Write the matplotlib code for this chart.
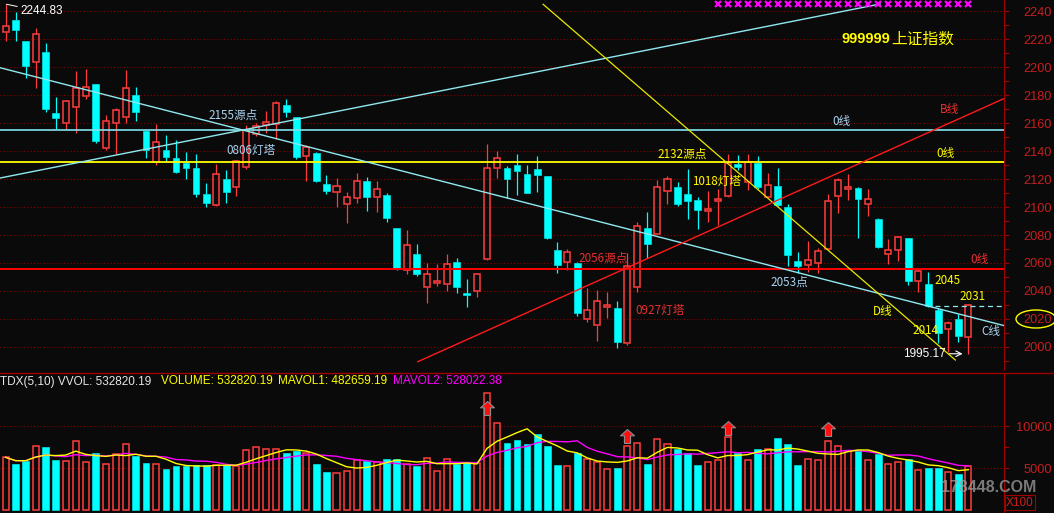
import numpy as np
import pandas as pd
import matplotlib
matplotlib.use("Agg")
import matplotlib.pyplot as plt
from matplotlib.patches import Rectangle, Ellipse
from matplotlib.lines import Line2D
from matplotlib.path import Path
from matplotlib.ticker import MultipleLocator, FixedLocator

W, H = 1054, 513

# daily OHLC
opens = [2225.2, 2233.6, 2218.6, 2203.4, 2210.7, 2166.9, 2159.8, 2171.6, 2179.5, 2187.9,
         2141.9, 2159.8, 2164.1, 2180.0, 2154.5, 2131.9, 2140.7, 2135.0, 2131.6, 2127.9,
         2109.3, 2101.2, 2120.0, 2114.1, 2128.8, 2151.9, 2158.8, 2159.1, 2172.9, 2164.1,
         2136.6, 2138.8, 2116.4, 2110.9, 2101.9, 2106.2, 2118.6, 2106.9, 2108.4, 2085.0,
         2055.0, 2066.4, 2043.1, 2045.9, 2044.8, 2060.5, 2038.6, 2040.2, 2062.6, 2127.6,
         2127.9, 2130.2, 2123.6, 2127.1, 2121.9, 2069.3, 2060.5, 2060.2, 2020.2, 2015.5,
         2028.4, 2027.9, 2002.6, 2042.6, 2084.8, 2080.9, 2111.2, 2114.1, 2109.1, 2105.0,
         2096.9, 2104.1, 2108.1, 2130.5, 2118.1, 2131.6, 2106.9, 2115.0, 2099.8, 2061.4,
         2058.8, 2060.2, 2069.8, 2107.6, 2113.1, 2113.4, 2102.1, 2091.4, 2066.2, 2069.3,
         2077.6, 2047.4, 2044.8, 2026.4, 2012.9, 2020.0, 2007.4]
highs = [2244.83, 2239.0, 2218.6, 2227.6, 2216.9, 2178.8, 2176.4, 2197.1, 2198.6, 2187.9,
         2165.7, 2170.7, 2197.9, 2185.5, 2154.8, 2159.5, 2151.4, 2147.9, 2139.3, 2137.9,
         2117.1, 2130.7, 2126.2, 2133.6, 2158.6, 2160.2, 2168.6, 2175.7, 2176.9, 2164.3,
         2144.3, 2139.5, 2122.9, 2120.5, 2110.5, 2124.1, 2121.2, 2118.6, 2109.8, 2085.2,
         2083.6, 2073.6, 2059.8, 2059.3, 2066.4, 2063.4, 2048.6, 2053.1, 2145.0, 2140.2,
         2129.0, 2137.9, 2130.0, 2136.4, 2122.5, 2075.2, 2070.0, 2060.4, 2041.9, 2040.7,
         2039.1, 2032.9, 2067.1, 2089.5, 2096.4, 2119.3, 2122.1, 2117.6, 2126.9, 2106.9,
         2111.6, 2112.6, 2137.9, 2137.1, 2137.9, 2136.4, 2124.5, 2128.1, 2102.1, 2067.6,
         2075.7, 2071.0, 2109.1, 2120.9, 2123.4, 2114.5, 2112.6, 2092.4, 2077.1, 2079.3,
         2078.0, 2055.5, 2053.4, 2028.1, 2018.8, 2023.4, 2031.0]
lows = [2218.8, 2218.8, 2192.4, 2185.2, 2168.1, 2155.9, 2155.9, 2152.6, 2177.4, 2145.9,
        2140.7, 2137.9, 2159.8, 2161.6, 2135.2, 2130.2, 2132.4, 2124.1, 2120.0, 2107.4,
        2099.8, 2101.0, 2103.1, 2107.9, 2126.9, 2150.7, 2152.6, 2148.4, 2164.5, 2134.1,
        2118.8, 2118.0, 2109.3, 2100.2, 2088.8, 2102.6, 2097.4, 2096.6, 2089.1, 2054.8,
        2051.9, 2050.9, 2031.6, 2043.8, 2040.0, 2038.8, 2028.4, 2035.9, 2062.0, 2120.5,
        2106.2, 2108.6, 2109.8, 2111.0, 2076.9, 2053.1, 2055.0, 2022.4, 2017.6, 2004.5,
        2020.9, 1999.0, 2001.4, 2039.5, 2063.4, 2080.5, 2102.1, 2100.7, 2091.4, 2084.3,
        2089.5, 2087.1, 2106.9, 2126.4, 2112.1, 2113.0, 2106.2, 2100.7, 2057.9, 2053.1,
        2053.8, 2053.1, 2069.5, 2095.9, 2105.0, 2078.1, 2093.6, 2070.5, 2059.1, 2061.4,
        2044.1, 2039.5, 2028.8, 2002.6, 1996.6, 2003.8, 1995.17]
closes = [2229.3, 2226.4, 2200.9, 2223.6, 2170.2, 2163.8, 2175.5, 2185.2, 2185.5, 2147.1,
          2161.2, 2169.1, 2184.8, 2168.1, 2140.7, 2146.2, 2135.9, 2125.2, 2128.1, 2109.5,
          2103.1, 2123.4, 2110.9, 2132.6, 2155.0, 2157.9, 2160.5, 2174.1, 2168.1, 2135.9,
          2142.6, 2118.8, 2111.6, 2114.8, 2106.9, 2118.6, 2107.4, 2112.6, 2091.9, 2055.5,
          2072.9, 2052.4, 2052.1, 2046.9, 2059.1, 2043.1, 2037.4, 2052.1, 2127.6, 2134.8,
          2120.2, 2125.9, 2110.2, 2123.1, 2078.1, 2058.6, 2067.6, 2024.3, 2026.2, 2032.6,
          2029.8, 2003.6, 2057.9, 2086.4, 2073.8, 2114.5, 2119.8, 2102.4, 2104.5, 2098.1,
          2098.8, 2105.7, 2131.2, 2128.4, 2132.4, 2114.1, 2115.7, 2101.4, 2065.7, 2057.9,
          2062.1, 2068.6, 2104.3, 2119.0, 2114.3, 2105.5, 2105.5, 2071.2, 2069.3, 2078.8,
          2047.4, 2054.5, 2029.5, 2009.8, 2017.4, 2008.1, 2030.0]
# volume in units of x100
volumes = [6310, 5512, 5869, 7655, 7536, 5988, 5833, 8214, 5714, 6821,
           5512, 6667, 7857, 6500, 5631, 5512, 4917, 5310, 5274, 5393,
           5393, 5393, 5393, 5274, 7143, 7500, 7262, 7262, 6821, 7060,
           6821, 5512, 4560, 4405, 4643, 6024, 5905, 5786, 6071, 6071,
           5512, 5310, 6190, 4679, 6071, 5512, 5714, 5595, 13929, 10357,
           8012, 8333, 7893, 9083, 7655, 5393, 5274, 6786, 6071, 5786,
           4881, 5000, 7655, 7976, 5512, 8452, 7857, 7298, 6786, 5393,
           5786, 5952, 8690, 6786, 5952, 7298, 7262, 8607, 7893, 5393,
           6071, 5952, 8214, 7619, 7060, 7060, 5952, 6702, 5476, 5714,
           6071, 4762, 5000, 5000, 4524, 4321, 5328]

price_ticks = list(range(2000, 2241, 20))
vol_ticks = [5000, 10000]

level_cyan = 2155
level_yellow = 2132
level_red = 2056
trend_up = [(-0.55, 2120.7), (87.2, 2245.0)]
trend_c = [(-0.55, 2199.5), (99.6, 2015.2)]
trend_d = [(53.6, 2244.8), (94.7, 1990.7)]
trend_b = [(41.1, 1989.5), (99.6, 2177.6)]
dash_level = 2029.5
dash_from = 92.7
signal_idx = list(range(71, 97))
signal_price = 2244.8
arrow_idx = [48, 62, 72, 82]
arrow_vol = [12180, 8850, 9800, 9680]

BG = "#0a0a0a"
RED = "#ff3c3c"
CYAN = "#00ffff"
GRID = "#8a0000"
AXC = "#a00000"
LBL = "#c81e1e"
PALE = "#aad4f0"
YEL = "#ffff00"
CJK = ["Noto Sans CJK SC", "DejaVu Sans"]

plt.rcParams["font.family"] = ["Liberation Sans", "DejaVu Sans"]


def fx(x):
    return x / W


def fy(y):
    return 1 - y / H


fig = plt.figure(figsize=(W / 100, H / 100), dpi=100, facecolor=BG)
ax = fig.add_axes([0, fy(370), 1004 / W, 370 / H], facecolor=BG)
axv = fig.add_axes([0, 0, 1004 / W, 140 / H], facecolor=BG)

n = len(opens)
xs = np.arange(n)
for a in (ax, axv):
    a.set_xlim(-0.55, 99.55)
    a.set_xticks([])
    for s in ("top", "left", "bottom"):
        a.spines[s].set_visible(False)
    a.spines["right"].set_color(AXC)
    a.yaxis.tick_right()
    a.tick_params(axis="y", which="both", direction="out", length=3.5,
                  width=0.8, color=AXC, labelcolor=LBL, labelsize=9.2, pad=31)

ax.set_ylim(1983.57, 2247.86)
ax.set_yticks(price_ticks)
ax.yaxis.set_minor_locator(MultipleLocator(10))
ax.grid(True, axis="y", color=GRID, linestyle=(0, (1, 2)), lw=0.8)
plt.setp(ax.get_yticklabels(), ha="right")

axv.set_ylim(-321, 16345)
axv.set_yticks(vol_ticks)
axv.yaxis.set_minor_locator(FixedLocator([2500, 7500]))
axv.grid(True, axis="y", color=GRID, linestyle=(0, (1, 2)), lw=0.8)
plt.setp(axv.get_yticklabels(), ha="right")

# candles
for i in range(n):
    o, h, l, c = opens[i], highs[i], lows[i], closes[i]
    up = c >= o
    col = RED if up else CYAN
    top, bot = max(o, c), min(o, c)
    hgt = max(top - bot, 0.7)
    ax.vlines(i, top, h, color=col, lw=0.9, zorder=3)
    ax.vlines(i, l, bot, color=col, lw=0.9, zorder=3)
    if up:
        ax.add_patch(Rectangle((i - 0.3, bot), 0.6, hgt, fc="none", ec=col, lw=1.1, zorder=3))
    else:
        ax.add_patch(Rectangle((i - 0.34, bot), 0.68, hgt, fc=col, ec=col, lw=0.4, zorder=3))

# drawn lines
ax.axhline(level_cyan, color="#80e4ee", lw=1.2, zorder=4)
ax.axhline(level_yellow, color=YEL, lw=1.3, zorder=4)
ax.axhline(level_red, color="#ff0000", lw=1.4, zorder=4)
for seg, col, lw in [(trend_up, "#90e8f0", 1.0), (trend_c, "#90e8f0", 1.0),
                     (trend_d, "#e8e800", 0.9), (trend_b, "#ff1a1a", 1.0)]:
    ax.plot([p[0] for p in seg], [p[1] for p in seg], color=col, lw=lw, zorder=4)
ax.plot([dash_from, 99.55], [dash_level, dash_level], color="#90e8f0", lw=0.9,
        ls=(0, (4, 3)), zorder=4)
ax.plot(signal_idx, [signal_price] * len(signal_idx), ls="none", marker="x", ms=4,
        mew=1.6, color="#ff00ff", zorder=5)

ax.annotate("2244.83", xy=(0.1, highs[0]), xytext=(fx(20), fy(11.5)),
            textcoords="figure fraction", va="center", ha="left", color="white",
            fontsize=8.5, arrowprops=dict(arrowstyle="-", color="white", lw=0.7,
                                          shrinkA=0, shrinkB=0))
ax.annotate("", xy=(95.7, lows[-1]), xytext=(93.8, lows[-1]),
            arrowprops=dict(arrowstyle="->", color="white", lw=0.8))
fig.text(fx(946), fy(354), "1995.17", color="white", fontsize=8.5, ha="right", va="center")

labels = [
    (208, 115, "2155源点", PALE), (226, 150, "0806灯塔", PALE),
    (657, 154, "2132源点", YEL), (692, 181, "1018灯塔", YEL),
    (578, 258, "2056源点", "#e83030"), (635, 310, "0927灯塔", "#e83030"),
    (770, 282, "2053点", PALE), (934, 280, "2045", YEL), (959, 296, "2031", YEL),
    (912, 330, "2014", YEL), (873, 312, "D线", YEL), (981, 332, "C线", PALE),
    (940, 110, "B线", "#e83030"), (832, 121, "0线", PALE), (936, 154, "0线", YEL),
    (970, 259, "0线", "#e83030"),
]
for x, y, s, col in labels:
    fig.text(fx(x), fy(y), s, color=col, fontsize=8.4, family=CJK, ha="left", va="center")

fig.text(fx(841), fy(39), "999999", color=YEL, fontsize=10.5, weight="bold",
         ha="left", va="center")
fig.text(fx(891), fy(39), "上证指数", color=YEL, fontsize=11.3, family=CJK,
         ha="left", va="center")

# volume bars
for i in range(n):
    if closes[i] >= opens[i]:
        axv.add_patch(Rectangle((i - 0.3, 0), 0.6, volumes[i], fc="none", ec=RED, lw=1.1, zorder=3))
    else:
        axv.add_patch(Rectangle((i - 0.34, 0), 0.68, volumes[i], fc=CYAN, ec=CYAN, lw=0.4, zorder=3))

vs = pd.Series(volumes, dtype=float)
ma5 = vs.rolling(5, min_periods=1).mean()
ma10 = vs.rolling(10, min_periods=1).mean()
axv.plot(xs, ma10, color="#ff00ff", lw=1.0, zorder=4)
axv.plot(xs, ma5, color=YEL, lw=1.0, zorder=4)

arrow_path = Path([(-0.22, -0.5), (0.22, -0.5), (0.22, 0.05), (0.5, 0.05), (0, 0.5),
                   (-0.5, 0.05), (-0.22, 0.05), (-0.22, -0.5)],
                  [Path.MOVETO] + [Path.LINETO] * 6 + [Path.CLOSEPOLY])
axv.plot(arrow_idx, arrow_vol, ls="none", marker=arrow_path, ms=10, color="#ff1010",
         mec="#8c8c8c", mew=0.8, zorder=5)

fig.text(fx(0), fy(381.5), "TDX(5,10) VVOL: 532820.19", color="#e6e6e6", fontsize=8.5,
         ha="left", va="center")
fig.text(fx(161), fy(381.5), "VOLUME: 532820.19", color=YEL, fontsize=8.5, ha="left", va="center")
fig.text(fx(278), fy(381.5), "MAVOL1: 482659.19", color=YEL, fontsize=8.5, ha="left", va="center")
fig.text(fx(393), fy(381.5), "MAVOL2: 528022.38", color="#ff00ff", fontsize=8.5,
         ha="left", va="center")

fig.add_artist(Line2D([0, 1], [fy(373), fy(373)], transform=fig.transFigure, color=AXC, lw=1))
fig.add_artist(Ellipse((fx(1036), fy(319)), 40 / W, 18 / H, transform=fig.transFigure,
                       fill=False, ec=YEL, lw=1))
fig.text(fx(1006), fy(502.5), "X100", color=LBL, fontsize=8.5, ha="left", va="center",
         bbox=dict(boxstyle="square,pad=0.1", fc="none", ec=AXC, lw=0.8))
fig.text(fx(941), fy(488), "178448.COM", color="#a0a0a0", alpha=0.75, fontsize=11.5,
         weight="bold", ha="left", va="center")

fig.savefig("out.png", dpi=100, facecolor=BG)
